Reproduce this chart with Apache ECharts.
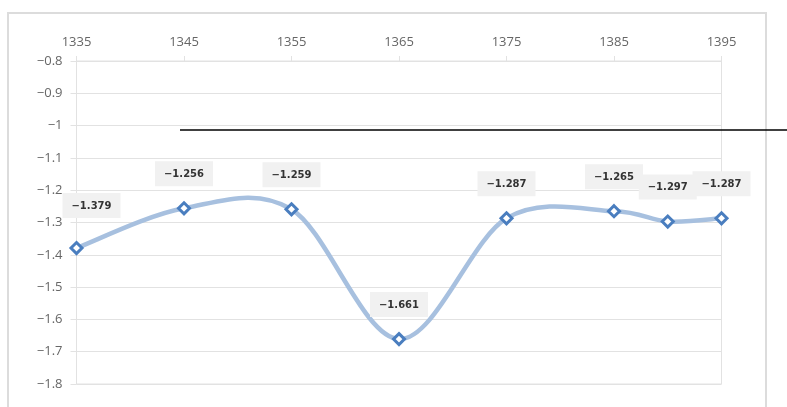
<!DOCTYPE html>
<html>
<head>
<meta charset="utf-8">
<script src="https://cdn.jsdelivr.net/npm/echarts@6/dist/echarts.min.js"></script>
<style>html,body{margin:0;padding:0;background:#fff;}#c{width:787px;height:407px;}</style>
</head>
<body>
<div id="c"></div>
<script>
var years = [1335, 1345, 1355, 1365, 1375, 1385, 1390, 1395];
var values = [-1.379, -1.256, -1.259, -1.661, -1.287, -1.265, -1.297, -1.287];
var xTicks = [1335, 1345, 1355, 1365, 1375, 1385, 1395];
var yTicks = [-0.8, -0.9, -1, -1.1, -1.2, -1.3, -1.4, -1.5, -1.6, -1.7, -1.8];

function fmtMinus(v) { return String(v).replace('-', '\u2212'); }

var chart = echarts.init(document.getElementById('c'), null, {renderer: 'canvas'});
var pairs = years.map(function (y, i) { return [y, values[i]]; });
var seriesData = pairs.map(function (p, i) {
  var d = {value: p};
  if (i === 0) d.label = {offset: [15, -8]};
  return d;
});

// Catmull-Rom style curve drawn through the library's coordinate system
function renderCurve(params, api) {
  var i = params.dataIndexInside;
  var n = params.dataInsideLength;
  if (i >= n - 1) return null;
  function pt(k) {
    k = Math.max(0, Math.min(n - 1, k));
    return api.coord([api.value(0, k), api.value(1, k)]);
  }
  var p0 = pt(i - 1), p1 = pt(i), p2 = pt(i + 1), p3 = pt(i + 2);
  var t = 6;
  return {
    type: 'bezierCurve',
    shape: {
      x1: p1[0], y1: p1[1], x2: p2[0], y2: p2[1],
      cpx1: p1[0] + (p2[0] - p0[0]) / t, cpy1: p1[1] + (p2[1] - p0[1]) / t,
      cpx2: p2[0] - (p3[0] - p1[0]) / t, cpy2: p2[1] - (p3[1] - p1[1]) / t
    },
    style: {fill: null, stroke: '#a7c0df', lineWidth: 4.5, lineCap: 'round'}
  };
}

chart.setOption({
  animation: false,
  backgroundColor: '#fff',
  grid: {left: 76.5, right: 65.5, top: 61, bottom: 23, show: true, borderColor: '#e2e2e2', borderWidth: 1, backgroundColor: 'transparent'},
  graphic: [
    {type: 'rect', shape: {x: 8, y: 13, width: 758, height: 420}, style: {fill: 'none', stroke: '#dcdcdc', lineWidth: 2}, z: 0},
    {type: 'line', shape: {x1: 180, y1: 130, x2: 787, y2: 130}, style: {stroke: '#000', lineWidth: 1.5}, z: 100}
  ],
  xAxis: {
    type: 'value', position: 'top', min: xTicks[0], max: xTicks[xTicks.length - 1], interval: 10,
    axisLine: {show: true, lineStyle: {color: '#e2e2e2'}},
    axisTick: {show: true, length: 5, lineStyle: {color: '#e2e2e2'}},
    splitLine: {show: false},
    axisLabel: {color: '#666', fontSize: 13, margin: 12, fontFamily: 'Open Sans, sans-serif', formatter: function (v) { return String(v); }}
  },
  yAxis: {
    type: 'value', min: yTicks[yTicks.length - 1], max: yTicks[0], interval: 0.1,
    axisLine: {show: true, lineStyle: {color: '#e2e2e2'}},
    axisTick: {show: true, length: 6, lineStyle: {color: '#e2e2e2'}},
    splitLine: {show: true, lineStyle: {color: '#e2e2e2'}},
    axisLabel: {color: '#666', fontSize: 13, margin: 14, fontFamily: 'Open Sans, sans-serif',
      formatter: function (v) { return fmtMinus(parseFloat(v.toFixed(1))); }}
  },
  series: [{
    type: 'custom', data: pairs, renderItem: renderCurve, z: 2, silent: true
  }, {
    type: 'line', data: seriesData,
    symbol: 'diamond', symbolSize: 11,
    lineStyle: {opacity: 0, width: 0},
    itemStyle: {color: '#fff', borderColor: '#4a7ebf', borderWidth: 3},
    label: {
      show: true, position: 'top', distance: 15,
      backgroundColor: '#f1f1f1', padding: [8, 9, 7, 9],
      color: '#333', fontSize: 10, fontWeight: 'bold', fontFamily: 'DejaVu Sans, sans-serif',
      formatter: function (p) { return fmtMinus(p.value[1].toFixed(3)); }
    },
    z: 5
  }]
});
</script>
</body>
</html>
